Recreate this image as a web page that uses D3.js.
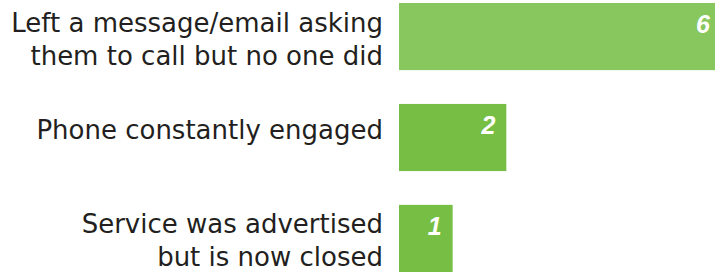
<!DOCTYPE html>
<html>
<head>
<meta charset="utf-8">
<script src="https://cdn.jsdelivr.net/npm/d3@7"></script>
<style>
  body { margin: 0; background: #fff; }
</style>
</head>
<body>
<script>
// Data
var categories = [
  ["Left a message/email asking", "them to call but no one did"],
  ["Phone constantly engaged"],
  ["Service was advertised", "but is now closed"]
];
var values = [6, 2, 1];
var barColors = ["#88c75e", "#77bf44", "#77bf44"];

// SVG area
var svgWidth = 715;
var svgHeight = 273;

var svg = d3.select("body")
            .append("svg")
            .attr("width", svgWidth)
            .attr("height", svgHeight);

// Scales
var x = d3.scaleLinear()
          .domain([0, 6])
          .range([399, 721]);

var y = d3.scaleBand()
          .domain(d3.range(categories.length))
          .range([3, 272])
          .paddingInner(0.335)
          .paddingOuter(0);

// Bars
svg.selectAll(".bar")
   .data(values)
   .enter()
   .append("rect")
   .attr("class", "bar")
   .attr("x", x(0))
   .attr("y", (d, i) => y(i))
   .attr("width", d => x(d) - x(0))
   .attr("height", y.bandwidth())
   .style("fill", (d, i) => barColors[i]);

// value labels
svg.selectAll(".val")
   .data(values)
   .enter()
   .append("text")
   .attr("class", "val")
   .attr("x", d => x(d) - 11)
   .attr("y", (d, i) => y(i) + 30)
   .attr("text-anchor", "end")
   .style("font-family", "Liberation Sans, Arial, sans-serif")
   .style("font-weight", "bold")
   .style("font-style", "italic")
   .style("font-size", "25px")
   .style("fill", "#fff")
   .text(d => d);

// category labels
var lineHeight = 33;
var labels = svg.selectAll(".cat")
                .data(categories)
                .enter()
                .append("text")
                .attr("class", "cat")
                .attr("text-anchor", "end")
                .style("font-family", "DejaVu Sans, sans-serif")
                .style("font-size", "26px")
                .style("fill", "#231f20");

labels.each(function(lines, i) {
  var cy = y(i) + y.bandwidth() / 2;
  var first = lines.length > 1 ? cy - 5 : cy + 1;
  d3.select(this).selectAll("tspan")
    .data(lines)
    .enter()
    .append("tspan")
    .attr("x", 383)
    .attr("y", (d, j) => first + j * lineHeight)
    .text(d => d);
});
</script>
</body>
</html>
